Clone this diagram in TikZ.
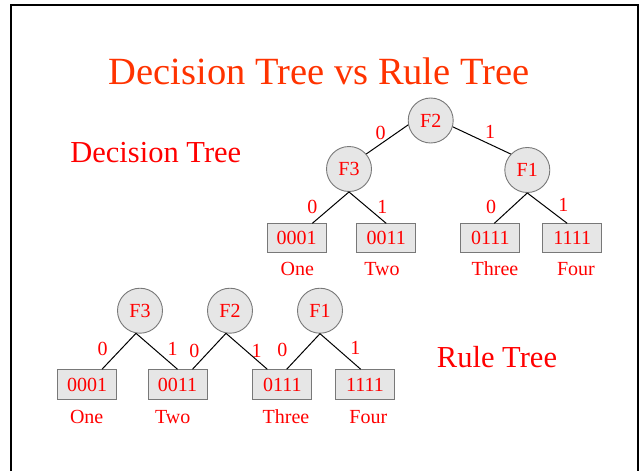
\documentclass[tikz,border=0pt]{standalone}
\usepackage{fontspec}
\setmainfont{Liberation Serif}
\usetikzlibrary{calc}

\definecolor{titlered}{RGB}{255,51,0}
\definecolor{boxgray}{RGB}{230,230,230}
\definecolor{edgegray}{RGB}{120,120,120}

\begin{document}
\begin{tikzpicture}[x=1pt, y=-1pt]
        % Sizes, in pixels of the slide
        \pgfmathsetmacro{\diameter}{45}
        \pgfmathsetmacro{\boxwidth}{59}
        \pgfmathsetmacro{\boxheight}{29}

        % Styles of the feature circles, leaf boxes and texts
        \tikzset{
            feature/.style={circle, draw=edgegray, fill=boxgray, line width=0.9pt,
                minimum size=\diameter pt, inner sep=0pt, text=red,
                font=\fontsize{20}{20}\selectfont},
            leaf/.style={rectangle, draw=edgegray, fill=boxgray, line width=0.9pt,
                minimum width=\boxwidth pt, minimum height=\boxheight pt,
                inner sep=0pt, text=red, font=\fontsize{20}{20}\selectfont},
            bit/.style={inner sep=0pt, text=red, font=\fontsize{20}{20}\selectfont},
            leafname/.style={anchor=base, inner sep=0pt, text=red, font=\fontsize{20}{20}\selectfont},
            heading/.style={anchor=base, inner sep=0pt, text=red, font=\fontsize{30.5}{30.5}\selectfont},
            branch/.style={draw=black, line width=1pt},
        }

        \useasboundingbox (0, 0) rectangle (642, 471);

        % Slide frame, its bottom edge is cut off
        \draw[line width=2pt] (11, 471) -- (11, 5) -- (637.7, 5) -- (637.7, 471);

        % Title and the two headings
        \node[anchor=base, inner sep=0pt, text=titlered, font=\fontsize{38.5}{38.5}\selectfont]
            (title) at (319.2, 84.3) {Decision Tree vs Rule Tree};
        \node[heading] (dtree) at (155.8, 162.7) {Decision Tree};
        \node[heading] (rtree) at (497, 367.3) {Rule Tree};

        % Decision tree
        \begin{scope}
            \node[feature] (T1) at (430.7, 120.5) {F2};
            \node[feature] (T2) at (349, 169) {F3};
            \node[feature] (T3) at (527.3, 170) {F1};

            \node[leaf] (L1) at (296.7, 238.3) {0001};
            \node[leaf] (L2) at (386.2, 238.3) {0011};
            \node[leaf] (L3) at (490.3, 238.3) {0111};
            \node[leaf] (L4) at (572.2, 238.3) {1111};

            \node[leafname] (N1) at (297.3, 275) {One};
            \node[leafname] (N2) at (382, 275) {Two};
            \node[leafname] (N3) at (495, 275) {Three};
            \node[leafname] (N4) at (576, 275) {Four};

            \node[bit] (B1) at (380.7, 133.3) {0};
            \node[bit] (B2) at (490, 131.7) {1};
            \node[bit] (B3) at (312.3, 206.7) {0};
            \node[bit] (B4) at (382.3, 206.7) {1};
            \node[bit] (B5) at (491, 207.3) {0};
            \node[bit] (B6) at (563.3, 205) {1};
        \end{scope}

        \begin{scope}[branch]
            \draw (T1.191) -- (T2.41);
            \draw (T1.344) -- (T3.136);
            \draw (T2.south) -- ([xshift=15.6pt]L1.north);
            \draw (T2.south) -- (L2.north);
            \draw (T3.south) -- ([xshift=4pt]L3.north);
            \draw (T3.south) -- ([xshift=-5pt]L4.north);
        \end{scope}

        % Rule tree
        \begin{scope}
            \node[feature] (R1) at (140, 310.7) {F3};
            \node[feature] (R2) at (230, 310.7) {F2};
            \node[feature] (R3) at (320, 310.7) {F1};

            \node[leaf, minimum height=30pt] (S1) at (87, 384.7) {0001};
            \node[leaf, minimum height=30pt] (S2) at (177.5, 384.7) {0011};
            \node[leaf, minimum height=30pt] (S3) at (282.3, 384.7) {0111};
            \node[leaf, minimum height=30pt] (S4) at (365, 384.7) {1111};

            \node[leafname] (M1) at (86.7, 423) {One};
            \node[leafname] (M2) at (172.7, 423) {Two};
            \node[leafname] (M3) at (286, 423) {Three};
            \node[leafname] (M4) at (368.3, 423) {Four};

            \node[bit] (C1) at (102.7, 349) {0};
            \node[bit] (C2) at (172.7, 349) {1};
            \node[bit] (C3) at (194.3, 351.3) {0};
            \node[bit] (C4) at (256.7, 351.3) {1};
            \node[bit] (C5) at (282.3, 349.6) {0};
            \node[bit] (C6) at (355.3, 348.2) {1};
        \end{scope}

        \begin{scope}[branch]
            \draw (R1.260) -- ([xshift=15pt]S1.north);
            \draw (R1.260) -- (S2.north);
            \draw (R2.260) -- ([xshift=15pt]S2.north);
            \draw (R2.260) -- ([xshift=-15pt]S3.north);
            \draw (R3.south) -- ([xshift=4.4pt]S3.north);
            \draw (R3.south) -- ([xshift=-4.3pt]S4.north);
        \end{scope}

\end{tikzpicture}
\end{document}
